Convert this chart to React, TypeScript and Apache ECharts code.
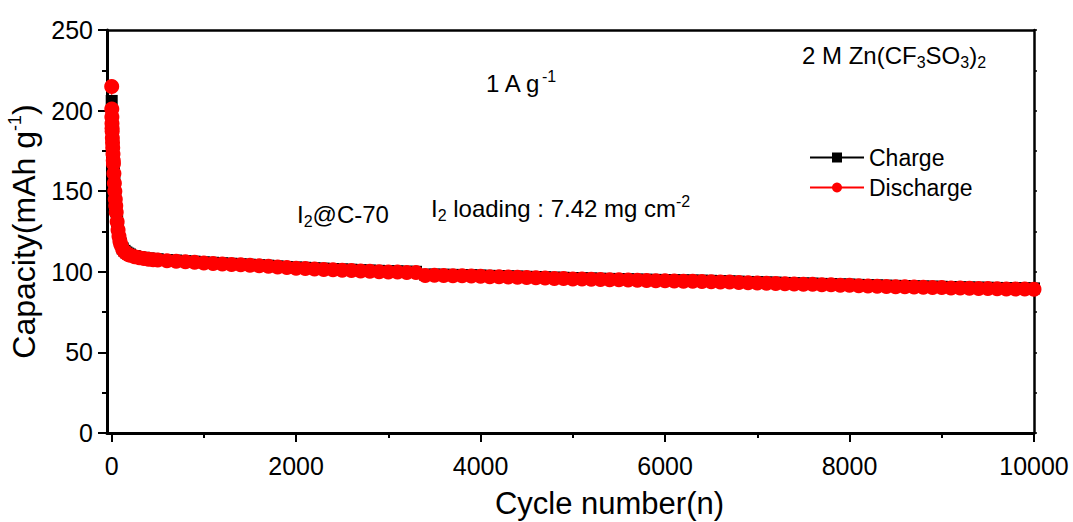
import React, { useEffect, useRef } from 'react';
import * as echarts from 'echarts';

const FONT = '"Liberation Sans", Arial, Helvetica, sans-serif';

const cycles = [
  1, 2, 3, 4, 5, 6, 8, 10, 12, 15, 18, 20, 25, 30, 35, 40, 45, 50, 60, 70, 80, 90, 100,
  120, 140, 160, 180, 200, 250, 300, 350, 400, 450, 500,
  600, 700, 800, 900, 1000, 1100, 1200, 1300, 1400, 1500,
  1600, 1700, 1800, 1900, 2000, 2100, 2200, 2300, 2400, 2500,
  2600, 2700, 2800, 2900, 3000, 3100, 3200, 3300, 3400, 3500,
  3600, 3700, 3800, 3900, 4000, 4100, 4200, 4300, 4400, 4500,
  4600, 4700, 4800, 4900, 5000, 5100, 5200, 5300, 5400, 5500,
  5600, 5700, 5800, 5900, 6000, 6100, 6200, 6300, 6400, 6500,
  6600, 6700, 6800, 6900, 7000, 7100, 7200, 7300, 7400, 7500,
  7600, 7700, 7800, 7900, 8000, 8100, 8200, 8300, 8400, 8500,
  8600, 8700, 8800, 8900, 9000, 9100, 9200, 9300, 9400, 9500,
  9600, 9700, 9800, 9900, 10000,
];

const chargeCapacity = [
  206, 198, 194, 191, 188.5, 186.5, 183, 180, 177, 173.5, 169.5, 167.5, 161.5, 155.5, 150.5,
  145.5, 141.5, 137.5, 131.5, 126.5, 122.5, 119.5, 117.5, 114.5, 113.0, 112.0, 111.3, 110.7,
  109.8, 109.2, 108.7, 108.3, 108.0, 107.8,
  107.3, 107.0, 106.6, 106.3, 105.9, 105.6, 105.3, 105.0, 104.7, 104.4,
  104.1, 103.8, 103.4, 103.0, 102.7, 102.5, 102.2, 102.0, 101.7, 101.5,
  101.3, 101.0, 100.8, 100.6, 100.4, 100.3, 100.1, 100.0, 98.2, 98.3,
  98.2, 98.1, 98.0, 97.9, 97.7, 97.5, 97.4, 97.2, 97.1, 96.9,
  96.8, 96.6, 96.4, 96.3, 96.1, 96.0, 95.9, 95.7, 95.6, 95.5,
  95.4, 95.2, 95.1, 95.0, 94.9, 94.8, 94.7, 94.6, 94.5, 94.4,
  94.2, 94.1, 93.9, 93.7, 93.6, 93.4, 93.3, 93.1, 92.9, 92.8,
  92.7, 92.5, 92.4, 92.2, 92.1, 91.9, 91.7, 91.6, 91.4, 91.3,
  91.2, 91.0, 90.9, 90.8, 90.7, 90.5, 90.4, 90.3, 90.2, 90.1,
  90.0, 89.9, 89.8, 89.8, 89.7,
];

const dischargeCapacity = [
  215, 201, 196, 192, 189, 187, 183, 180, 177, 173, 169, 167, 161, 155, 150,
  145, 141, 137, 131, 126, 122, 119, 117, 114, 112.5, 111.5, 110.8, 110.2,
  109.3, 108.7, 108.2, 107.8, 107.5, 107.3,
  106.9, 106.6, 106.2, 105.9, 105.5, 105.2, 104.9, 104.6, 104.3, 104.0,
  103.7, 103.4, 103.0, 102.6, 102.2, 102.0, 101.7, 101.5, 101.2, 101.0,
  100.8, 100.5, 100.3, 100.1, 99.9, 99.8, 99.6, 99.5, 97.7, 97.8,
  97.7, 97.6, 97.5, 97.4, 97.2, 97.0, 96.9, 96.7, 96.6, 96.4,
  96.3, 96.1, 95.9, 95.8, 95.6, 95.5, 95.4, 95.2, 95.1, 95.0,
  94.9, 94.7, 94.6, 94.5, 94.4, 94.3, 94.2, 94.1, 94.0, 93.9,
  93.7, 93.6, 93.4, 93.2, 93.1, 92.9, 92.8, 92.6, 92.4, 92.3,
  92.2, 92.0, 91.9, 91.7, 91.6, 91.4, 91.2, 91.1, 90.9, 90.8,
  90.7, 90.5, 90.4, 90.3, 90.2, 90.0, 89.9, 89.8, 89.7, 89.6,
  89.5, 89.4, 89.3, 89.3, 89.2,
];

const xTickValues = [0, 2000, 4000, 6000, 8000, 10000];
const xMinorTickValues = [1000, 3000, 5000, 7000, 9000];
const seriesNames = ['Charge', 'Discharge'];

const richText = {
  m: { fontSize: 24, lineHeight: 30, fontFamily: FONT, fill: '#000' },
  sup: { fontSize: 16, lineHeight: 16, verticalAlign: 'top', fontFamily: FONT, fill: '#000' },
  sub: { fontSize: 16, lineHeight: 8, verticalAlign: 'bottom', fontFamily: FONT, fill: '#000' },
};

function annot(x: number, y: number, text: string) {
  return {
    type: 'text',
    x,
    y,
    z: 10,
    style: {
      text,
      rich: richText,
      fontFamily: FONT,
      fontSize: 24,
      fill: '#000',
      align: 'left',
      verticalAlign: 'top',
    },
  };
}

export default function App() {
  const ref = useRef<HTMLDivElement>(null);

  useEffect(() => {
    document.body.style.margin = '0';
    const chart = echarts.init(ref.current as HTMLDivElement, null, { renderer: 'svg' });
    const pairs = (ys: number[]) => cycles.map((c, i) => [c, ys[i]]);
    const axisColor = '#000';

    const option: any = {
      animation: false,
      backgroundColor: '#fff',
      textStyle: { fontFamily: FONT, color: '#000' },
      grid: { left: 107, right: 39, top: 30, bottom: 89, containLabel: false, outerBoundsMode: 'none' },
      legend: {
        data: seriesNames,
        orient: 'vertical',
        left: 804,
        top: 141,
        itemWidth: 54,
        itemHeight: 12.5,
        itemGap: 7,
        textStyle: { fontSize: 23, color: '#000', fontFamily: FONT },
      },
      xAxis: [
        {
          type: 'value',
          position: 'bottom',
          min: -50,
          max: 10000,
          axisLine: { show: true, onZero: false, lineStyle: { color: axisColor, width: 3 } },
          axisTick: { show: true, customValues: xTickValues, length: 9, lineStyle: { color: axisColor, width: 2 } },
          axisLabel: {
            show: true,
            customValues: xTickValues,
            formatter: (v: number) => String(v),
            fontSize: 25,
            color: '#000',
            margin: 20,
            fontFamily: FONT,
          },
          splitLine: { show: false },
          name: 'Cycle number(n)',
          nameLocation: 'middle',
          nameGap: 55,
          nameTextStyle: { fontSize: 31, color: '#000', fontFamily: FONT, padding: [0, 0, 0, 78] },
        },
        {
          type: 'value',
          position: 'bottom',
          min: -50,
          max: 10000,
          axisLine: { show: false, onZero: false },
          axisTick: { show: true, customValues: xMinorTickValues, length: 5, lineStyle: { color: axisColor, width: 2 } },
          axisLabel: { show: false },
          splitLine: { show: false },
        },
        {
          type: 'value',
          position: 'top',
          min: -50,
          max: 10000,
          axisLine: { show: true, onZero: false, lineStyle: { color: axisColor, width: 2.5 } },
          axisTick: { show: false },
          axisLabel: { show: false },
          splitLine: { show: false },
        },
      ],
      yAxis: [
        {
          type: 'value',
          position: 'left',
          min: 0,
          max: 250,
          interval: 50,
          axisLine: { show: true, onZero: false, lineStyle: { color: axisColor, width: 3 } },
          axisTick: { show: true, length: 9, lineStyle: { color: axisColor, width: 2 } },
          minorTick: { show: true, splitNumber: 2, length: 5, lineStyle: { color: axisColor, width: 2 } },
          axisLabel: { fontSize: 25, color: '#000', margin: 14, fontFamily: FONT },
          splitLine: { show: false },
          minorSplitLine: { show: false },
          name: '{a|Capacity(mAh g}{b|-1}{a|)}',
          nameLocation: 'middle',
          nameGap: 59,
          nameRotate: 90,
          nameTextStyle: {
            color: '#000',
            fontFamily: FONT,
            fontSize: 32,
            rich: {
              a: { fontSize: 32, lineHeight: 36, fontFamily: FONT, color: '#000' },
              b: { fontSize: 18, lineHeight: 11, verticalAlign: 'top', fontFamily: FONT, color: '#000' },
            },
          },
        },
        {
          type: 'value',
          position: 'right',
          min: 0,
          max: 250,
          interval: 25,
          axisLine: { show: true, onZero: false, lineStyle: { color: axisColor, width: 2.5 } },
          axisTick: { show: true, length: 3, lineStyle: { color: axisColor, width: 1.5 } },
          axisLabel: { show: false },
          splitLine: { show: false },
        },
      ],
      graphic: [
        annot(486, 68, '{m|1 A g}{sup|-1}'),
        annot(802, 40, '{m|2 M Zn(CF}{sub|3}{m|SO}{sub|3}{m|)}{sub|2}'),
        annot(297, 199, '{m|I}{sub|2}{m|@C-70}'),
        annot(431, 193, '{m|I}{sub|2}{m| loading : 7.42 mg cm}{sup|-2}'),
      ],
      series: [
        {
          name: seriesNames[0],
          type: 'line',
          xAxisIndex: 0,
          yAxisIndex: 0,
          data: pairs(chargeCapacity),
          symbol: 'rect',
          symbolSize: 12,
          showSymbol: true,
          itemStyle: { color: '#000' },
          lineStyle: { color: '#000', width: 1 },
          clip: false,
        },
        {
          name: seriesNames[1],
          type: 'line',
          xAxisIndex: 0,
          yAxisIndex: 0,
          data: pairs(dischargeCapacity),
          symbol: 'circle',
          symbolSize: 15,
          showSymbol: true,
          itemStyle: { color: '#ff0000' },
          lineStyle: { color: '#ff0000', width: 1 },
          clip: false,
        },
      ],
    };

    chart.setOption(option);
    return () => chart.dispose();
  }, []);

  return <div ref={ref} style={{ width: 1073, height: 522 }} />;
}
